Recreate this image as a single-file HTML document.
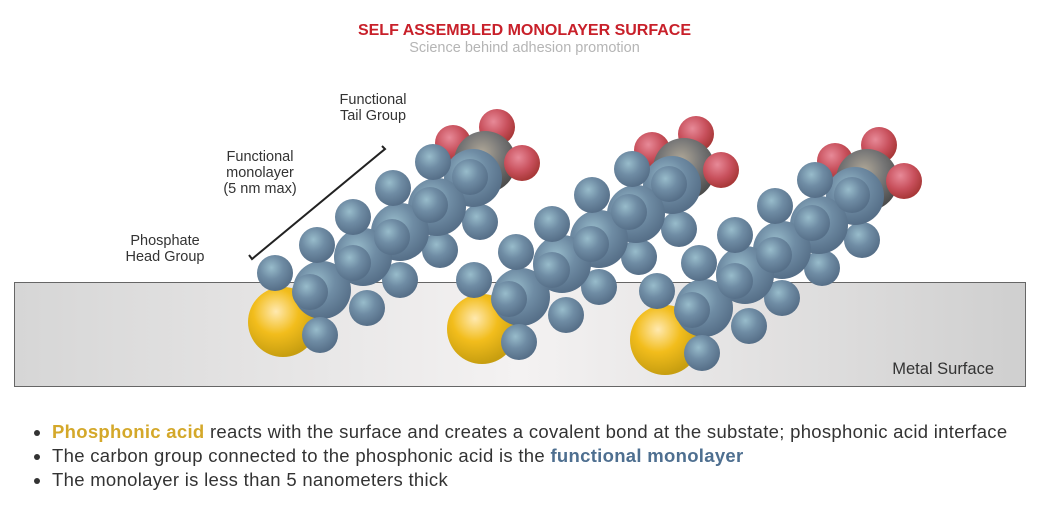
<!DOCTYPE html><html><head><style>
body{margin:0;width:1049px;height:511px;background:#fff;font-family:"Liberation Sans",sans-serif;overflow:hidden;position:relative}
.t{position:absolute;color:#333;font-size:14.5px;line-height:16px;text-align:center}
ul{position:absolute;left:30px;top:420px;margin:0;padding:0 0 0 22px;font-size:18.5px;letter-spacing:0.3px;color:#333;line-height:24px;white-space:nowrap}
</style></head><body>
<div style="position:absolute;left:0;width:1049px;top:22px;text-align:center;color:#c8202a;font-weight:bold;font-size:16px">SELF ASSEMBLED MONOLAYER SURFACE</div>
<div style="position:absolute;left:0;width:1049px;top:40px;text-align:center;color:#b5b5b5;font-size:14.5px">Science behind adhesion promotion</div>
<svg width="1049" height="511" style="position:absolute;left:0;top:0">
<defs>
<linearGradient id="m" x1="0" x2="1"><stop offset="0" stop-color="#d6d6d6"/><stop offset="0.5" stop-color="#f4f2f2"/><stop offset="1" stop-color="#cfcfcf"/></linearGradient>
<radialGradient id="b" cx="0.4" cy="0.35" r="0.65"><stop offset="0" stop-color="#98bccb"/><stop offset="0.5" stop-color="#6f8ca4"/><stop offset="1" stop-color="#566f88"/></radialGradient>
<radialGradient id="y" cx="0.4" cy="0.35" r="0.65"><stop offset="0" stop-color="#ffe9b0"/><stop offset="0.5" stop-color="#f2bd1c"/><stop offset="1" stop-color="#c79e10"/></radialGradient>
<radialGradient id="r" cx="0.4" cy="0.35" r="0.65"><stop offset="0" stop-color="#e78a98"/><stop offset="0.6" stop-color="#c8505c"/><stop offset="1" stop-color="#a83838"/></radialGradient>
<radialGradient id="g" cx="0.45" cy="0.35" r="0.65"><stop offset="0" stop-color="#b0a898"/><stop offset="0.5" stop-color="#777"/><stop offset="1" stop-color="#4a4a4a"/></radialGradient>
<g id="mol">
<circle cx="453" cy="143" r="18" fill="url(#r)"/><circle cx="497" cy="127" r="18" fill="url(#r)"/>
<circle cx="485" cy="162" r="31" fill="url(#g)"/><circle cx="522" cy="163" r="18" fill="url(#r)"/>
<circle cx="283" cy="322" r="35" fill="url(#y)"/>
<g fill="url(#b)">
<circle cx="480" cy="222" r="18"/><circle cx="440" cy="250" r="18"/><circle cx="400" cy="280" r="18"/><circle cx="367" cy="308" r="18"/>
<circle cx="473" cy="178" r="29"/><circle cx="437" cy="207" r="29"/><circle cx="400" cy="232" r="29"/><circle cx="363" cy="257" r="29"/><circle cx="322" cy="290" r="29"/>
<circle cx="433" cy="162" r="18"/><circle cx="393" cy="188" r="18"/><circle cx="353" cy="217" r="18"/><circle cx="317" cy="245" r="18"/><circle cx="275" cy="273" r="18"/>
<circle cx="320" cy="335" r="18"/>
<circle cx="470" cy="177" r="18"/><circle cx="430" cy="205" r="18"/><circle cx="392" cy="237" r="18"/><circle cx="353" cy="263" r="18"/><circle cx="310" cy="292" r="18"/>
</g></g>
</defs>
<rect x="14.5" y="282.5" width="1011" height="104" fill="url(#m)" stroke="#666"/>
<use href="#mol"/>
<use href="#mol" transform="translate(199,7)"/>
<use href="#mol" transform="translate(382,18)"/>
<path d="M249 255 L252 259 L385 149 L382 146" fill="none" stroke="#222" stroke-width="2"/>
<text x="994" y="374" text-anchor="end" font-size="16.5" fill="#333" font-family="Liberation Sans,sans-serif">Metal Surface</text>
</svg>
<div class="t" style="left:318px;top:92px;width:110px">Functional<br>Tail Group</div>
<div class="t" style="left:205px;top:149px;width:110px">Functional<br>monolayer<br>(5 nm max)</div>
<div class="t" style="left:110px;top:233px;width:110px">Phosphate<br>Head Group</div>
<ul>
<li><b style="color:#d4a82a">Phosphonic acid</b> reacts with the surface and creates a covalent bond at the substate; phosphonic acid interface</li>
<li>The carbon group connected to the phosphonic acid is the <b style="color:#4e6f90">functional monolayer</b></li>
<li>The monolayer is less than 5 nanometers thick</li>
</ul>
</body></html>
